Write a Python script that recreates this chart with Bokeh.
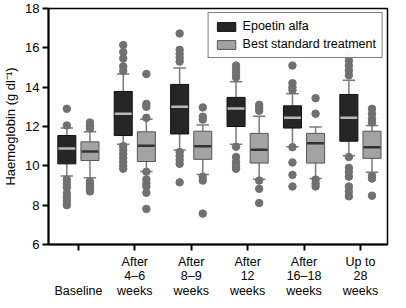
from bokeh.plotting import figure
from bokeh.models import Range1d, FixedTicker, ColumnDataSource
from bokeh.embed import file_html
from bokeh.resources import INLINE

# ---- data ----
categories = ["\n\nBaseline", "After\n4\u20136\nweeks", "After\n8\u20139\nweeks",
              "After\n12\nweeks", "After\n16\u201318\nweeks", "Up to\n28\nweeks"]
positions = [1, 2, 3, 4, 5, 6]

epo_q1 = [10.10, 11.54, 11.62, 12.00, 11.92, 11.25]
epo_med = [10.88, 12.65, 13.00, 12.92, 12.45, 12.44]
epo_q3 = [11.54, 13.78, 14.14, 13.48, 13.05, 13.63]
epo_low = [9.48, 11.10, 10.81, 11.10, 10.97, 10.51]
epo_high = [11.92, 14.67, 14.98, 14.27, 13.67, 14.35]
epo_out = [
    [12.05, 12.90, 9.30, 9.10, 8.90, 8.60, 8.40, 8.20, 8.00],
    [14.82, 15.06, 15.46, 15.78, 16.14, 11.00, 10.80, 10.60, 10.40, 10.20, 10.00, 9.85],
    [15.30, 15.50, 15.70, 15.90, 16.73, 10.70, 10.50, 10.30, 10.10, 9.16],
    [14.50, 14.70, 14.90, 15.10, 10.97, 10.45, 10.20, 10.00, 9.85],
    [13.85, 14.00, 14.20, 15.10, 10.95, 10.17, 9.54, 8.95],
    [14.60, 14.85, 15.10, 15.35, 15.60, 10.45, 9.90, 9.70, 9.45, 8.95, 8.70, 8.45],
]

bst_q1 = [10.27, 10.22, 10.33, 10.14, 10.14, 10.38]
bst_med = [10.73, 11.02, 11.00, 10.82, 11.15, 10.94]
bst_q3 = [11.22, 11.73, 11.76, 11.65, 11.65, 11.76]
bst_low = [9.40, 9.71, 9.56, 9.32, 9.35, 9.67]
bst_high = [11.73, 12.37, 12.08, 12.52, 11.97, 12.05]
bst_out = [
    [11.90, 12.05, 12.20, 9.20, 9.00, 8.85, 8.70],
    [12.44, 13.00, 13.15, 14.67, 9.70, 9.30, 9.10, 8.95, 8.63, 7.81],
    [12.35, 12.50, 12.97, 9.45, 9.25, 7.57],
    [12.80, 12.95, 13.10, 9.25, 8.83, 8.11],
    [12.65, 13.44, 9.30, 9.10, 8.95],
    [12.20, 12.40, 12.65, 12.90, 9.50, 9.35, 8.48],
]

series_names = ["Epoetin alfa", "Best standard treatment"]
y_ticks = [6, 8, 10, 12, 14, 16, 18]

# ---- styling ----
FONT = "Liberation Sans"
offset = 0.205
bw = 0.32
cap = 0.22

p = figure(width=390, height=300, output_backend="svg", toolbar_location=None,
           x_range=Range1d(0.47, 6.48), y_range=Range1d(6, 18),
           min_border_left=38, min_border_right=3, min_border_top=8, min_border_bottom=20)
p.grid.visible = False
p.outline_line_color = "black"
p.outline_line_width = 1.5
p.background_fill_color = "white"

def draw(pos_off, q1, med, q3, low, high, outs, fill, line, med_color, name):
    xs = [x + pos_off for x in positions]
    p.segment(x0=xs, y0=q3, x1=xs, y1=high, line_color="#7a7a7a", line_width=1.5)
    p.segment(x0=xs, y0=low, x1=xs, y1=q1, line_color="#7a7a7a", line_width=1.5)
    p.segment(x0=[x - cap / 2 for x in xs], y0=high, x1=[x + cap / 2 for x in xs], y1=high,
              line_color="#7a7a7a", line_width=1.5)
    p.segment(x0=[x - cap / 2 for x in xs], y0=low, x1=[x + cap / 2 for x in xs], y1=low,
              line_color="#7a7a7a", line_width=1.5)
    ox, oy = [], []
    for x, vals in zip(xs, outs):
        for v in vals:
            ox.append(x)
            oy.append(v)
    p.scatter(ox, oy, size=7.5, fill_color="#707070", line_color="#707070")
    src = ColumnDataSource(dict(x=xs, top=q3, bottom=q1))
    p.vbar(x="x", width=bw, top="top", bottom="bottom", source=src,
           fill_color=fill, line_color=line, line_width=1, legend_label=name)
    p.segment(x0=[x - bw / 2 + 0.01 for x in xs], y0=med, x1=[x + bw / 2 - 0.01 for x in xs], y1=med,
              line_color=med_color, line_width=2.5)

draw(-offset, epo_q1, epo_med, epo_q3, epo_low, epo_high, epo_out,
     "#262626", "#111111", "#b8b8b8", series_names[0])
draw(offset, bst_q1, bst_med, bst_q3, bst_low, bst_high, bst_out,
     "#a3a3a3", "#555555", "#333333", series_names[1])

xa = p.xaxis[0]
xa.ticker = FixedTicker(ticks=positions)
xa.major_label_overrides = {pos: lab for pos, lab in zip(positions, categories)}
xa.minor_tick_line_color = None
xa.major_tick_in = 0
xa.major_tick_out = 6
xa.major_tick_line_width = 2
xa.axis_line_width = 2
xa.axis_line_color = "black"
xa.major_tick_line_color = "black"
xa.major_label_text_font = FONT
xa.major_label_text_font_size = "12.5px"
xa.major_label_text_color = "black"
xa.major_label_text_line_height = 1.05
xa.major_label_standoff = 4
xa.axis_label = None
xa.axis_label_standoff = 0

ya = p.yaxis[0]
ya.ticker = FixedTicker(ticks=y_ticks)
ya.minor_tick_line_color = None
ya.major_tick_in = 0
ya.major_tick_out = 6
ya.major_tick_line_width = 2
ya.axis_line_width = 2
ya.axis_line_color = "black"
ya.major_tick_line_color = "black"
ya.major_label_text_font = FONT
ya.major_label_text_font_size = "13px"
ya.major_label_text_color = "black"
ya.major_label_standoff = 3
ya.axis_label = "Haemoglobin (g dl\u207b\u00b9)"
ya.axis_label_text_font = FONT
ya.axis_label_text_font_size = "13px"
ya.axis_label_text_font_style = "normal"
ya.axis_label_text_color = "black"
ya.axis_label_standoff = 4

lg = p.legend[0]
lg.location = "top_right"
lg.margin = 4
lg.padding = 6
lg.spacing = 4
lg.border_line_color = "black"
lg.border_line_width = 1.5
lg.label_text_font = FONT
lg.label_text_font_size = "12.5px"
lg.label_text_color = "black"
lg.glyph_width = 23
lg.glyph_height = 11
lg.label_height = 14
lg.label_standoff = 5

open("out.html", "w").write(file_html(p, INLINE))
